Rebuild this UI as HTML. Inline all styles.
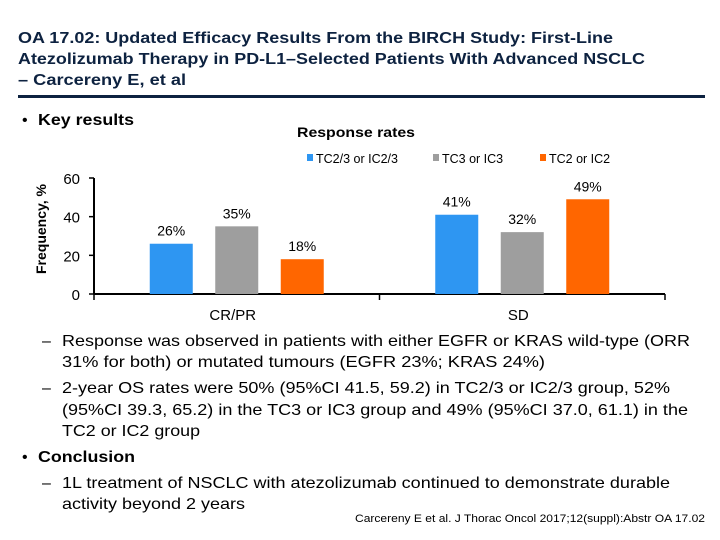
<!DOCTYPE html>
<html><head><meta charset="utf-8"><style>
html,body{margin:0;padding:0;background:#fff}
svg{display:block}
text{font-family:"Liberation Sans",Arial,sans-serif}
</style></head><body>
<svg width="720" height="540" viewBox="0 0 720 540">
<g fill="#0d2240" font-weight="bold" font-size="16">
<text x="18" y="43" textLength="595" lengthAdjust="spacingAndGlyphs">OA 17.02: Updated Efficacy Results From the BIRCH Study: First-Line</text>
<text x="18" y="64" textLength="627" lengthAdjust="spacingAndGlyphs">Atezolizumab Therapy in PD-L1–Selected Patients With Advanced NSCLC</text>
<text x="18" y="85" textLength="168" lengthAdjust="spacingAndGlyphs">– Carcereny E, et al</text>
</g>
<rect x="18" y="95" width="687" height="3" fill="#0d2240"/>
<text x="22" y="125" font-size="16">•</text>
<text x="38" y="125" font-size="16" font-weight="bold" textLength="96" lengthAdjust="spacingAndGlyphs">Key results</text>
<text x="297" y="137" font-size="14" font-weight="bold" textLength="118" lengthAdjust="spacingAndGlyphs">Response rates</text>
<g id="legend"></g>
<g id="chart"></g>
<g font-size="16" fill="#000">
<text x="42" y="346">–</text>
<text x="62" y="346" textLength="628" lengthAdjust="spacingAndGlyphs">Response was observed in patients with either EGFR or KRAS wild-type (ORR</text>
<text x="62" y="367" textLength="483" lengthAdjust="spacingAndGlyphs">31% for both) or mutated tumours (EGFR 23%; KRAS 24%)</text>
<text x="42" y="393">–</text>
<text x="62" y="393" textLength="608" lengthAdjust="spacingAndGlyphs">2-year OS rates were 50% (95%CI 41.5, 59.2) in TC2/3 or IC2/3 group, 52%</text>
<text x="62" y="415" textLength="626" lengthAdjust="spacingAndGlyphs">(95%CI 39.3, 65.2) in the TC3 or IC3 group and 49% (95%CI 37.0, 61.1) in the</text>
<text x="62" y="436" textLength="138" lengthAdjust="spacingAndGlyphs">TC2 or IC2 group</text>
<text x="22" y="462">•</text>
<text x="38" y="462" font-weight="bold" textLength="97" lengthAdjust="spacingAndGlyphs">Conclusion</text>
<text x="42" y="488">–</text>
<text x="62" y="488" textLength="608" lengthAdjust="spacingAndGlyphs">1L treatment of NSCLC with atezolizumab continued to demonstrate durable</text>
<text x="62" y="509" textLength="183" lengthAdjust="spacingAndGlyphs">activity beyond 2 years</text>
</g>
<text x="355" y="522" font-size="11" textLength="350" lengthAdjust="spacingAndGlyphs">Carcereny E et al. J Thorac Oncol 2017;12(suppl):Abstr OA 17.02</text>
</svg>
<script>
const categories = ["CR/PR", "SD"];
const seriesNames = ["TC2/3 or IC2/3", "TC3 or IC3", "TC2 or IC2"];
const seriesTC23 = [26, 41];
const seriesTC3 = [35, 32];
const seriesTC2 = [18, 49];
const yTicks = [0, 20, 40, 60];
const colors = ["#2e96f2", "#9e9e9e", "#ff6600"];
const NS = "http://www.w3.org/2000/svg";
const chart = document.getElementById("chart");
const legend = document.getElementById("legend");
const x0 = 94, x1 = 665, y0 = 294, yTop = 178, yMax = 60;
function yScale(v){ return y0 - (v / yMax) * (y0 - yTop); }
const groupW = (x1 - x0) / categories.length;
const barW = 43, step = 65.5;
function xBar(ci, si){ return x0 + groupW * ci + groupW / 2 - barW / 2 + (si - 1) * step; }
function mk(tag, attrs, parent){ const e = document.createElementNS(NS, tag); for (const k in attrs) e.setAttribute(k, attrs[k]); parent.appendChild(e); return e; }
const series = [seriesTC23, seriesTC3, seriesTC2];
// axes
let ax = mk("line", {x1: x0, y1: y0, x2: x1, y2: y0, stroke: "#000", "stroke-width": 2}, chart);


let ay = mk("line", {x1: x0, y1: yTop, x2: x0, y2: y0, stroke: "#000", "stroke-width": 2}, chart);


yTicks.forEach(t => {
  const tk = mk("line", {x1: x0 - 5, y1: yScale(t), x2: x0, y2: yScale(t), stroke: "#000", "stroke-width": 1.5}, chart);
  
  
  const tl = mk("text", {x: x0 - 14, y: yScale(t) + 6, "text-anchor": "end", "font-size": 15}, chart);
  tl.textContent = t;
  
  
});
[0, 1, 2].forEach(i => {
  const tk = mk("line", {x1: x0 + groupW * i, y1: y0, x2: x0 + groupW * i, y2: y0 + 6, stroke: "#000", "stroke-width": 1.5}, chart);
  
  
});
const yt = mk("text", {x: 0, y: 0, transform: "translate(46,229) rotate(-90)", "text-anchor": "middle", "font-size": 14, "font-weight": "bold"}, chart);
yt.textContent = "Frequency, %";


categories.forEach((c, ci) => {
  const cl = mk("text", {x: x0 + groupW * ci + groupW / 2 - 4, y: 320, "text-anchor": "middle", "font-size": 15}, chart);
  cl.textContent = c;
  
  
  series.forEach((s, si) => {
    const v = s[ci], bx = xBar(ci, si), by = yScale(v);
    const r = mk("rect", {x: bx, y: by, width: barW, height: y0 - by, fill: colors[si]}, chart);
    
    
    const lb = mk("text", {x: bx + barW / 2, y: by - 8, "text-anchor": "middle", "font-size": 14}, chart);
    lb.textContent = v + "%";
    
    
  });
});
const legX = [307, 433, 540];
seriesNames.forEach((n, i) => {
  const sw = mk("rect", {x: legX[i], y: 154, width: 6, height: 7, fill: colors[i]}, legend);
  
  
  const lt = mk("text", {x: legX[i] + 9, y: 163, "font-size": 12.5}, legend);
  lt.textContent = n;
  
  
});
</script>
</body></html>
